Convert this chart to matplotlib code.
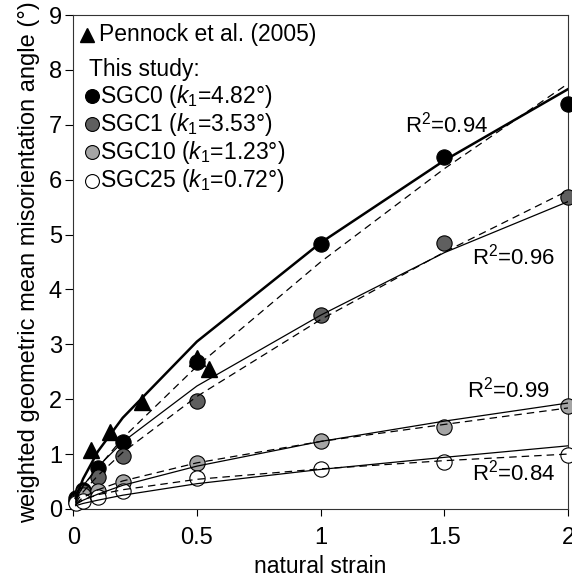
import matplotlib.pyplot as plt

plt.rcParams['font.family'] = ['Liberation Sans', 'DejaVu Sans']
plt.rcParams['mathtext.fontset'] = 'custom'
plt.rcParams['mathtext.rm'] = 'Liberation Sans'
plt.rcParams['mathtext.it'] = 'Liberation Sans:italic'

# measured points (natural strain vs misorientation angle)
strain = [0.01, 0.04, 0.1, 0.2, 0.5, 1.0, 1.5, 2.0]
sgc0 = [0.20, 0.35, 0.75, 1.22, 2.67, 4.82, 6.42, 7.38]
sgc1 = [0.15, 0.30, 0.58, 0.96, 1.96, 3.53, 4.85, 5.69]
sgc10 = [0.13, 0.25, 0.32, 0.49, 0.83, 1.23, 1.50, 1.88]
sgc25 = [0.10, 0.14, 0.22, 0.33, 0.56, 0.73, 0.85, 0.98]

pennock_x = [0.07, 0.15, 0.28, 0.50, 0.55]
pennock_y = [1.08, 1.41, 1.95, 2.75, 2.55]

# fitted curves at the sample strains
fit0 = [0.20, 0.55, 1.05, 1.66, 3.05, 4.85, 6.35, 7.65]
fit1 = [0.17, 0.42, 0.77, 1.22, 2.24, 3.53, 4.67, 5.60]
fit10 = [0.08, 0.16, 0.27, 0.43, 0.78, 1.23, 1.60, 1.93]
fit25 = [0.06, 0.10, 0.16, 0.25, 0.46, 0.72, 0.94, 1.15]
dash0 = [0.13, 0.42, 0.75, 1.29, 2.60, 4.50, 6.20, 7.75]
dash1 = [0.11, 0.31, 0.61, 1.03, 2.05, 3.45, 4.68, 5.80]
dash10 = [0.10, 0.21, 0.35, 0.51, 0.84, 1.23, 1.54, 1.84]
dash25 = [0.09, 0.17, 0.26, 0.35, 0.54, 0.73, 0.88, 1.00]

labels = ['SGC0', 'SGC1', 'SGC10', 'SGC25']
k1 = ['4.82', '3.53', '1.23', '0.72']
colors = ['#000000', '#5f5f5f', '#a5a5a5', '#ffffff']
r2 = ['0.94', '0.96', '0.99', '0.84']
r2_pos = [(1.34, 7.0), (1.61, 4.6), (1.59, 2.17), (1.61, 0.66)]

fig = plt.figure(figsize=(5.72, 5.79), dpi=100)
ax = fig.add_axes([0.128, 0.121, 0.865, 0.853])

ms = 11
ax.plot(pennock_x, pennock_y, '^', color='black', ms=ms, zorder=2, clip_on=False)
for y, c in zip([sgc0, sgc1, sgc10, sgc25], colors):
    ax.plot(strain, y, 'o', mfc=c, mec='black', mew=0.8, ms=ms, zorder=3, clip_on=False)

ax.plot(strain, fit0, '-', color='black', lw=1.8, zorder=4)
for f in [fit1, fit10, fit25]:
    ax.plot(strain, f, '-', color='black', lw=0.9, zorder=4)
for d in [dash0, dash1, dash10, dash25]:
    ax.plot(strain, d, '--', color='black', lw=0.9, dashes=(6, 4), zorder=4)

for r, (x, y) in zip(r2, r2_pos):
    ax.text(x, y, 'R$^2$=' + r, fontsize=16, va='center', ha='left')

# legend drawn by hand
fs = 16.5
ax.plot([0.028], [0.96], '^', color='black', ms=10, transform=ax.transAxes, clip_on=False)
ax.text(0.052, 0.96, 'Pennock et al. (2005)', transform=ax.transAxes,
        fontsize=fs, va='center')
ax.text(0.032, 0.889, 'This study:', transform=ax.transAxes, fontsize=fs, va='center')
for i, (lab, k, c) in enumerate(zip(labels, k1, colors)):
    yy = 0.836 - i * 0.057
    ax.plot([0.038], [yy], 'o', mfc=c, mec='black', mew=0.8, ms=10,
            transform=ax.transAxes, clip_on=False)
    ax.text(0.055, yy, lab + ' ($k_{\\mathit{1}}$=' + k + '°)', transform=ax.transAxes,
            fontsize=fs, va='center')

ax.set_xlim(0, 2)
ax.set_ylim(0, 9)
ax.set_xticks([0, 0.5, 1, 1.5, 2])
ax.set_xticklabels(['0', '0.5', '1', '1.5', '2'])
ax.set_yticks(range(10))
ax.tick_params(direction='out', width=0.8, labelsize=17, top=False, right=False)
ax.tick_params(axis='x', length=5, pad=8)
ax.tick_params(axis='y', length=6, pad=2)
for s in ax.spines.values():
    s.set_linewidth(0.8)
    s.set_color('#333333')
ax.set_xlabel('natural strain', fontsize=16.5, labelpad=4)
ax.set_ylabel('weighted geometric mean misorientation angle (°)', fontsize=17, labelpad=6)

fig.savefig('out.png', dpi=100)
